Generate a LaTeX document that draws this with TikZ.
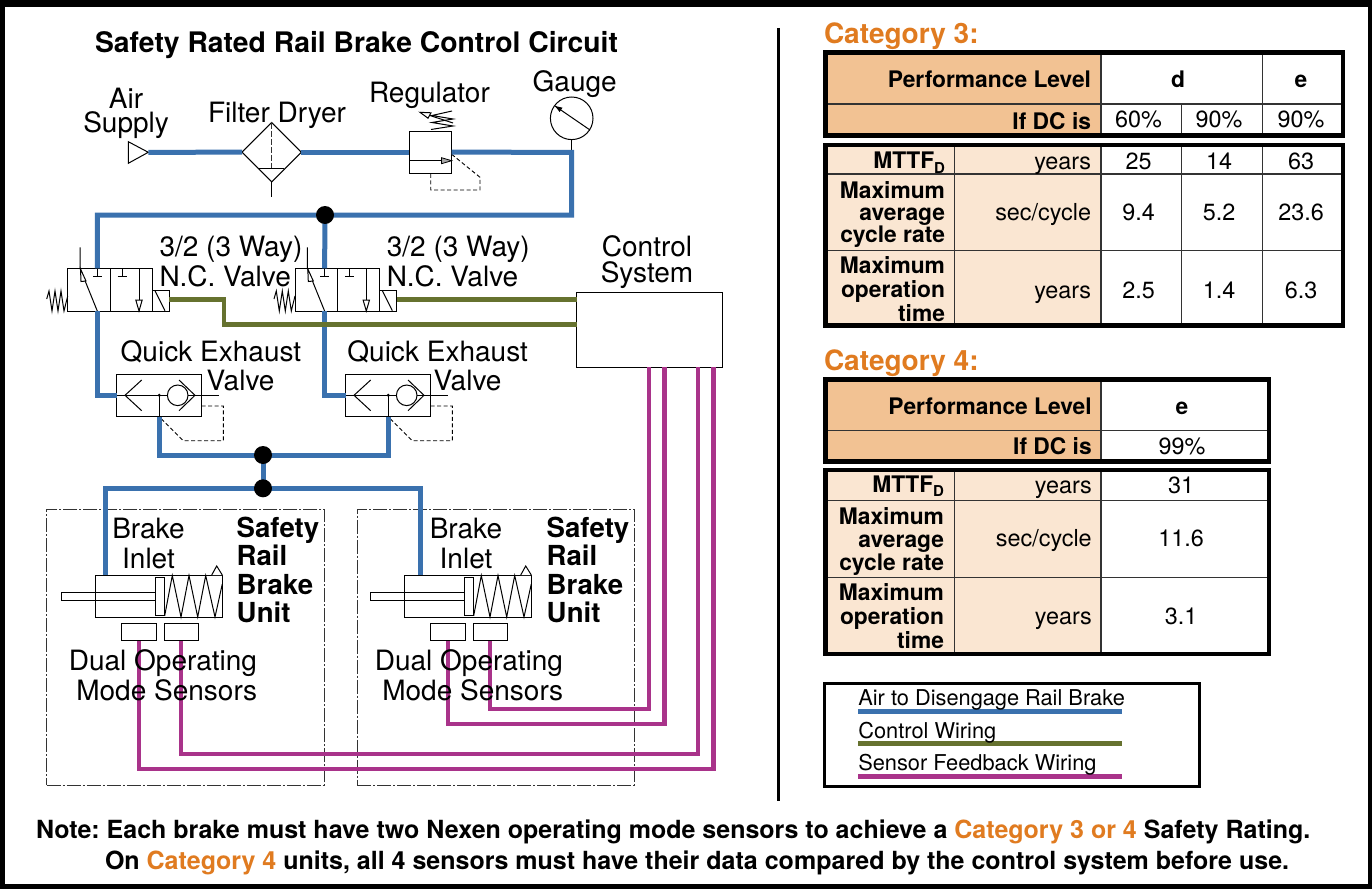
\documentclass[tikz,border=0pt]{standalone}
\usepackage{fontspec}
\setmainfont{TeX Gyre Heros}
\usetikzlibrary{shapes.geometric,calc}
\definecolor{airc}{HTML}{3A71AE}
\definecolor{ctlc}{HTML}{66722F}
\definecolor{senc}{HTML}{A9338A}
\definecolor{orgc}{HTML}{E07B20}
\definecolor{hdrc}{HTML}{F2C293}
\definecolor{lblc}{HTML}{FAE6D2}
\definecolor{gridc}{HTML}{333333}
\newcommand\fsz[2]{\fontsize{#1}{#2}\selectfont}
\newcommand\subD{\raisebox{-4.5pt}{\fsz{15}{15}D}}
\frenchspacing
\tikzset{
 airline/.style={draw=airc,line width=5pt,line join=miter},
 ctlline/.style={draw=ctlc,line width=4.6pt,line join=miter},
 senline/.style={draw=senc,line width=4.2pt,line join=miter},
 sym/.style={draw=black,line width=1pt,fill=white,inner sep=0pt,outer sep=0pt},
 thin1/.style={draw=black,line width=1pt},
 dash1/.style={draw=black,line width=.9pt,dash pattern=on 4pt off 2.5pt},
 junction/.style={circle,fill=black,inner sep=0pt,minimum size=18pt},
 lbl/.style={inner sep=0pt,outer sep=0pt,font=\fsz{28}{30}},
 blbl/.style={inner sep=0pt,outer sep=0pt,font=\fsz{27.6}{28.4}\bfseries},
 tval/.style={inner sep=0pt,outer sep=0pt,font=\fsz{23.4}{24},anchor=base},
 tunit/.style={inner sep=0pt,outer sep=0pt,font=\fsz{23.4}{24},anchor=base east},
 thead/.style={inner sep=0pt,outer sep=0pt,font=\fsz{22.8}{24}\bfseries,anchor=base east},
 cat/.style={inner sep=0pt,outer sep=0pt,font=\fsz{28}{28}\bfseries,text=orgc,anchor=base west},
 notel/.style={inner sep=0pt,outer sep=0pt,font=\fsz{25}{26}\bfseries,anchor=base west},
 legt/.style={inner sep=0pt,outer sep=0pt,font=\fsz{21.8}{24},anchor=base west},
 frameb/.style={draw=black,line width=4.3pt},
 gridl/.style={draw=gridc,line width=1.5pt},
}
\newcommand\valveSym[2]{%
\begin{scope}[shift={(#2,0)}]
 \node[sym,minimum width=84.6pt,minimum height=42.7pt] (#1) at (110,289.65) {};
 \draw[thin1] (110,268.3) -- (110,311);
 \node[sym,minimum width=17pt,minimum height=21pt] (#1sol) at (160.8,300.5) {};
 \draw[thin1] (155,290.7) -- (165,310.7);
 \draw[thin1] (80,247.3) -- (80,268.3) -- (97.3,311);
 \draw[thin1,fill=white] (80.5,269) -- (86,281) -- (81,281.5) -- cycle;
 \draw[thin1] (97.3,268.3) -- (97.3,276.7) (93,276.7) -- (102,276.7);
 \draw[thin1] (122.3,268.3) -- (122.3,276.7) (117.7,276.7) -- (127,276.7);
 \draw[thin1] (139,268.3) -- (139,311);
 \draw[thin1,fill=white] (139,311) -- (135.8,300) -- (142.2,300) -- cycle;
 \draw[thin1,line join=miter] (46.7,299) -- (49,291) -- (52,311) -- (55,291) -- (58,311) -- (61,291) -- (64,311) -- (67.7,296);
 \coordinate (#1in) at (97.3,268.3);
 \coordinate (#1out) at (97.3,311);
 \coordinate (#1port) at (169.3,299.3);
\end{scope}}
\newcommand\qeSym[2]{%
\begin{scope}[shift={(#2,0)}]
 \node[sym,minimum width=85pt,minimum height=42.7pt] (#1) at (159.2,395.35) {};
 \draw[thin1] (116.7,395.3) -- (219,395.3);
 \draw[thin1] (141.7,380) -- (125,395.3) -- (141.7,410.7);
 \draw[thin1,fill=white] (177.7,395.3) circle (10.3pt);
 \draw[thin1] (179,380) -- (195,395.3) -- (179,410.7);
 \fill (159.3,395.3) circle (1.7pt);
 \draw[thin1] (159.3,395.3) -- (159.3,416.7);
 \draw[dash1] (201.7,406) -- (223.3,406) -- (223.3,440.7) -- (183.3,440.7) -- (161.7,419.3);
 \coordinate (#1in) at (116.7,395.3);
 \coordinate (#1out) at (159.3,416.7);
\end{scope}}
\newcommand\brakeSym[3]{%
\begin{scope}[shift={(#2,0)}]
 \node[sym,minimum width=127pt,minimum height=42.3pt] (#1) at (158.8,596.15) {};
 \draw[thin1,fill=white] (61.7,592.3) rectangle (155.7,600.7);
 \draw[thin1] (95.3,592.3) -- (95.3,600.7);
 \draw[thin1,fill=white] (155.7,577.3) rectangle (164.7,615.7);
 \draw[thin1,line join=miter] (164.7,615.7) -- (172.3,575.5) -- (181,617) -- (189,575.5) -- (197.7,617) -- (205.7,575.5) -- (215,617) -- (222.3,584);
 \draw[thin1,fill=white] (211.7,575) -- (216.7,566) -- (222.3,575);
 \node[sym,minimum width=35.4pt,minimum height=17.4pt] (#1a) at (139,632) {};
 \node[sym,minimum width=34.4pt,minimum height=17.4pt] (#1b) at (181.5,632) {};
 \coordinate (#1in) at (#3,575);
 \coordinate (#1as) at (139,640.7);
 \coordinate (#1bs) at (181.3,640.7);
\end{scope}}
\begin{document}
\begin{tikzpicture}[x=1pt,y=-1pt]
\useasboundingbox (0,0) rectangle (1372,888);
\fill[white] (0,0) rectangle (1372,888);
% outer border
\draw[draw=black,line width=0pt,fill=black,even odd rule] (0,0) rectangle (1372,888) (4,7) rectangle (1368,884.5);
\draw[draw=black,line width=3pt] (778,28) -- (778,801);

% title
\node[inner sep=0pt,outer sep=0pt,font=\fsz{28.3}{30}\bfseries,anchor=base west] (title) at (95,53) {Safety Rated Rail Brake Control Circuit};

% dash-dot frames
\node[draw=gridc,line width=1pt,dash pattern=on 14pt off 2pt on 2pt off 2pt,inner sep=0pt,minimum width=277.3pt,minimum height=276pt] (unitA) at (185.35,647) {};
\node[draw=gridc,line width=1pt,dash pattern=on 14pt off 2pt on 2pt off 2pt,inner sep=0pt,minimum width=276.7pt,minimum height=276pt] (unitB) at (495.65,647) {};

% named ports
\coordinate (airtip) at (148.3,152.3);
\coordinate (jtop) at (325,215);
\coordinate (jq) at (263,455);
\coordinate (jb) at (263,488.3);
\coordinate (bend) at (571.7,152.3);

% symbols
\draw[thin1,fill=white] (128.3,141.7) -- (airtip) -- (128.3,163.3) -- cycle;
\node[sym,diamond,aspect=1,minimum width=59.4pt,minimum height=59.4pt] (filter) at (271.7,152.2) {};
\node[sym,minimum width=42.4pt,minimum height=42.3pt] (reg) at (430.5,152.2) {};
\node[sym,circle,minimum size=42.6pt] (gauge) at (571.7,118.3) {};
\valveSym{vA}{0}
\valveSym{vB}{227.3}
\qeSym{qA}{0}
\qeSym{qB}{229}
\brakeSym{bA}{0}{105}
\brakeSym{bB}{309}{111.7}
\node[sym,minimum width=146pt,minimum height=75pt] (ctrl) at (649.7,329.8) {};

% filter details
\draw[gridc,line width=1pt,dash pattern=on 6pt off 2pt] (filter.north) -- (271.7,168);
\draw[thin1] (259.3,168) -- (284.3,168);
\coordinate (fdrain) at (271.7,196.7);
\draw[thin1] (filter.south) -- (fdrain);
% regulator details
\draw[thin1] (reg.west |- 0,160.7) -- (reg.east |- 0,160.7);
\draw[draw=black,line width=.8pt,fill=gray!70] (451.7,160.7) -- (441.5,157.7) -- (441.5,163.7) -- cycle;
\draw[thin1,line join=miter] (431,129.5) -- (453,126) -- (432,122.5) -- (453,119) -- (432,115.5) -- (452,111);
\draw[thin1] (453,123) -- (420,112.3);
\draw[thin1,fill=white] (420,112.3) -- (431,112.8) -- (428,118.2) -- cycle;
\draw[dash1] (451.7,154.3) -- (480,177.3) -- (480,190) -- (430.7,190) -- (430.7,173.3);
% gauge details
\draw[thin1] (555,106) -- (590,130);
\fill (555,106) -- (562.5,107.7) -- (559.6,112) -- cycle;
\draw[thin1] (gauge.south) -- (bend);

% air lines
\draw[airline] (airtip) -- (filter.west);
\draw[airline] (filter.east) -- (reg.west);
\draw[airline] (reg.east) -- (bend) -- (571.7,215) -- (vAin |- jtop) -- (vAin);
\draw[airline] (jtop) -- (vBin);
\draw[airline] (vAout) |- (qAin);
\draw[airline] (vBout) |- (qBin);
\draw[airline] (qAout) |- (jq) -| (qBout);
\draw[airline] (jq) -- (jb);
\draw[airline] (bAin) |- (jb) -| (bBin);
\node[junction] (j1) at (jtop) {};
\node[junction] (j2) at (jq) {};
\node[junction] (j3) at (jb) {};

% control wires
\draw[ctlline] (vAport) -- (224,299.3) -- (224,324.3) -- (ctrl.west |- 0,324.3);
\draw[ctlline] (vBport) -- (ctrl.west |- 0,299.3);

% sensor wires
\draw[senline] (ctrl.south -| 649.3,0) -- (649.3,708.7) -- (bBbs |- 0,708.7) -- (bBbs);
\draw[senline] (ctrl.south -| 664.5,0) -- (664.5,724) -- (bBas |- 0,724) -- (bBas);
\draw[senline] (ctrl.south -| 698.3,0) -- (698.3,754) -- (bAbs |- 0,754) -- (bAbs);
\draw[senline] (ctrl.south -| 713.5,0) -- (713.5,769.3) -- (bAas |- 0,769.3) -- (bAas);

% diagram labels
\node[lbl,align=center,anchor=base] (tAir) at (126,132.7) {Air\\[-6pt]Supply};
\node[lbl,anchor=base west] (tFilter) at (208,122.5) {Filter Dryer};
\node[lbl,anchor=base west] (tReg) at (369,102.5) {Regulator};
\node[lbl,anchor=base west] (tGauge) at (532.7,91.5) {Gauge};
\node[lbl,align=left,anchor=base west] (tV1) at (159.5,286.7) {3/2 (3 Way)\\N.C. Valve};
\node[lbl,align=left,anchor=base west] (tV2) at (386.8,286.7) {3/2 (3 Way)\\N.C. Valve};
\node[lbl,align=center,anchor=base] (tCtl) at (647,282.7) {Control\\[-3.5pt]System};
\node[lbl,anchor=base west] (tQ1) at (120.7,361.7) {Quick Exhaust};
\node[lbl,anchor=base west] (tQ1b) at (206.7,390.3) {Valve};
\node[lbl,anchor=base west] (tQ2) at (347.4,361.7) {Quick Exhaust};
\node[lbl,anchor=base west] (tQ2b) at (433.7,390.3) {Valve};
\node[lbl,align=center,anchor=base] (tB1) at (148.5,568.7) {Brake\\Inlet};
\node[lbl,align=center,anchor=base] (tB2) at (466,568.7) {Brake\\Inlet};
\node[blbl,align=left,anchor=base west] (tS1) at (236.7,622.7) {Safety\\Rail\\Brake\\Unit};
\node[blbl,align=left,anchor=base west] (tS2) at (546.7,622.7) {Safety\\Rail\\Brake\\Unit};
\node[lbl,align=right,anchor=base east] (tD1) at (257,700.3) {Dual Operating\\Mode Sensors};
\node[lbl,align=right,anchor=base east] (tD2) at (563,700.3) {Dual Operating\\Mode Sensors};

% ---------- Category 3
\node[cat] (c3) at (824,44) {Category 3:};
\fill[hdrc] (825.5,52.5) rectangle (1100.8,135.5);
\fill[lblc] (825.5,145) rectangle (1100.8,325.5);
\draw[gridl] (825.5,104) -- (1343,104);
\draw[gridl] (1181.7,104) -- (1181.7,135.5);
\draw[gridl] (1100.8,52.5) -- (1100.8,135.5);
\draw[gridl] (1262.7,52.5) -- (1262.7,135.5);
\draw[gridl] (954.5,145) -- (954.5,325.5);
\draw[gridl] (1100.8,145) -- (1100.8,325.5);
\draw[gridl] (1181.7,145) -- (1181.7,325.5);
\draw[gridl] (1262.7,145) -- (1262.7,325.5);
\draw[gridl] (825.5,174) -- (1343,174) (825.5,250.5) -- (1343,250.5);
\node[frameb,minimum width=517.5pt,minimum height=83pt,inner sep=0pt] (t3a) at (1084.25,94) {};
\node[frameb,minimum width=517.5pt,minimum height=180.5pt,inner sep=0pt] (t3b) at (1084.25,235.25) {};
\node[thead] (a1) at (1091,88) {Performance Level};
\node[thead] (a2) at (1091,129) {If DC is};
\node[thead,anchor=base] (a3) at (1178,88) {d};
\node[thead,anchor=base] (a4) at (1301,88) {e};
\node[tval] (a5) at (1138.5,128) {60\%};
\node[tval] (a6) at (1219,128) {90\%};
\node[tval] (a7) at (1301,128) {90\%};
\node[thead] (a8) at (945,168.5) {MTTF\subD};
\node[tunit] (a9) at (1091,169) {years};
\node[tval] (a10) at (1138.5,169) {25};
\node[tval] (a11) at (1219,169) {14};
\node[tval] (a12) at (1301,169) {63};
\node[thead,align=right] (a13) at (945,242) {Maximum\\[-2pt]average\\[-2pt]cycle rate};
\node[tunit] (a14) at (1091,220) {sec/cycle};
\node[tval] (a15) at (1138.5,220) {9.4};
\node[tval] (a16) at (1219,220) {5.2};
\node[tval] (a17) at (1301,220) {23.6};
\node[thead,align=right] (a18) at (945,321) {Maximum\\operation\\time};
\node[tunit] (a19) at (1091,298) {years};
\node[tval] (a20) at (1138.5,298) {2.5};
\node[tval] (a21) at (1219,298) {1.4};
\node[tval] (a22) at (1301,298) {6.3};

% ---------- Category 4
\node[cat] (c4) at (824,370) {Category 4:};
\fill[hdrc] (825.5,379.5) rectangle (1101,461.5);
\fill[lblc] (825.5,470) rectangle (1101,654);
\draw[gridl] (825.5,430.7) -- (1269,430.7);
\draw[gridl] (1101,379.5) -- (1101,461.5);
\draw[gridl] (954.3,470) -- (954.3,654);
\draw[gridl] (1101,470) -- (1101,654);
\draw[gridl] (825.5,500.7) -- (1269,500.7) (825.5,577.3) -- (1269,577.3);
\node[frameb,minimum width=443.5pt,minimum height=82pt,inner sep=0pt] (t4a) at (1047.25,420.5) {};
\node[frameb,minimum width=443.5pt,minimum height=184pt,inner sep=0pt] (t4b) at (1047.25,562) {};
\node[thead] (b1) at (1091.7,414) {Performance Level};
\node[thead] (b2) at (1091.7,454) {If DC is};
\node[thead,anchor=base] (b3) at (1182,414) {e};
\node[tval] (b4) at (1182,454) {99\%};
\node[thead] (b5) at (944,492) {MTTF\subD};
\node[tunit] (b6) at (1091.7,493) {years};
\node[tval] (b7) at (1181,493) {31};
\node[thead,align=right] (b8) at (944,570) {Maximum\\[-1pt]average\\[-1pt]cycle rate};
\node[tunit] (b9) at (1091.7,546) {sec/cycle};
\node[tval] (b10) at (1181,546) {11.6};
\node[thead,align=right] (b11) at (944,648) {Maximum\\operation\\time};
\node[tunit] (b12) at (1091.7,624) {years};
\node[tval] (b13) at (1181,624) {3.1};

% ---------- legend
\node[draw=black,line width=3pt,minimum width=375pt,minimum height=103pt,inner sep=0pt] (legend) at (1012,735) {};
\coordinate (lg1a) at (858.3,711); \coordinate (lg1b) at (1122.3,711);
\coordinate (lg2a) at (858.3,743.7); \coordinate (lg2b) at (1122.3,743.7);
\coordinate (lg3a) at (858.3,776); \coordinate (lg3b) at (1122.3,776);
\draw[airline] (lg1a) -- (lg1b);
\draw[ctlline,line width=5pt] (lg2a) -- (lg2b);
\draw[senline,line width=5pt] (lg3a) -- (lg3b);
\node[legt] (l1) at (858.3,705) {Air to Disengage Rail Brake};
\node[legt] (l2) at (858.3,738) {Control Wiring};
\node[legt] (l3) at (858.3,770) {Sensor Feedback Wiring};

% ---------- note
\node[notel] (n1) at (36,838) {Note: Each brake must have two Nexen operating mode sensors to achieve a \textcolor{orgc}{Category 3 or 4} Safety Rating.};
\node[notel] (n2) at (105,869) {On \textcolor{orgc}{Category 4} units, all 4 sensors must have their data compared by the control system before use.};
\end{tikzpicture}
\end{document}
